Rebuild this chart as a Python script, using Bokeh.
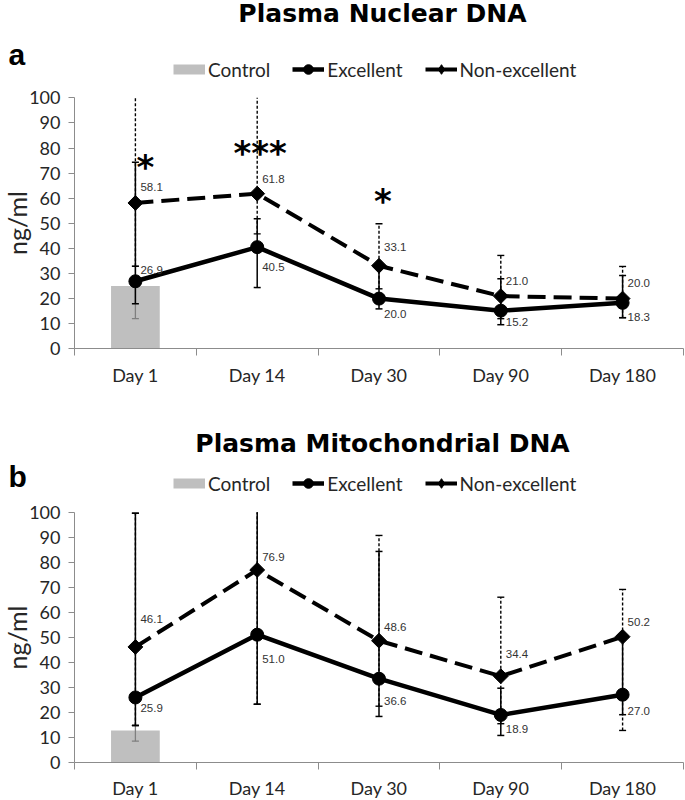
import numpy as np
from bokeh.plotting import figure
from bokeh.models import (ColumnDataSource, Range1d, FixedTicker, Legend, LegendItem, Label)
from bokeh.layouts import column
from bokeh.core.properties import value
from bokeh.embed import file_html
from bokeh.resources import INLINE

# ---------------- data ----------------
days = ["Day 1", "Day 14", "Day 30", "Day 90", "Day 180"]
y_ticks = list(range(0, 101, 10))

# Panel a: Plasma Nuclear DNA (ng/ml)
nuc_control = 25.0
nuc_control_lo = 12.0
nuc_control_hi = 32.9
nuc_exc = [26.9, 40.5, 20.0, 15.2, 18.3]
nuc_exc_lo = [17.9, 24.4, 15.9, 9.6, 12.4]
nuc_exc_hi = [74.3, 51.8, 32.0, 27.9, 29.2]
nuc_exc_labels = ["26.9", "40.5", "20.0", "15.2", "18.3"]
nuc_ne = [58.1, 61.8, 33.1, 21.0, 20.0]
nuc_ne_lo = [32.9, 45.8, 23.9, 12.0, 12.4]
nuc_ne_hi = [105.0, 105.0, 49.8, 37.2, 32.8]
nuc_ne_labels = ["58.1", "61.8", "33.1", "21.0", "20.0"]
nuc_stars = ["*", "***", "*"]
nuc_star_days = ["Day 1", "Day 14", "Day 30"]
nuc_star_y = [74.6, 80.0, 60.7]

# Panel b: Plasma Mitochondrial DNA (ng/ml)
mit_control = 12.7
mit_control_lo = 8.4
mit_control_hi = 14.7
mit_exc = [25.9, 51.0, 33.4, 18.9, 27.0]
mit_exc_lo = [14.7, 23.2, 18.3, 10.7, 19.0]
mit_exc_hi = [99.6, 105.0, 84.3, 29.6, 50.2]
mit_exc_labels = ["25.9", "51.0", "36.6", "18.9", "27.0"]
mit_ne = [46.1, 76.9, 48.6, 34.4, 50.2]
mit_ne_lo = [14.7, 23.2, 22.4, 15.4, 12.7]
mit_ne_hi = [99.6, 105.0, 90.7, 66.0, 69.1]
mit_ne_labels = ["46.1", "76.9", "48.6", "34.4", "50.2"]

# ---------------- styling ----------------
AXIS_GRAY = "#8c8c8c"
BAR_GRAY = "#bfbfbf"
TXT = "#262626"
FONT = "Lato"
W, H = 685, 400
AX_LEFT = 74.0          # pixel position of the y axis
PX_PER_CAT = 121.8      # pixels per day category


def make_panel(title, letter, control, control_lo, control_hi,
               exc, exc_lo, exc_hi, exc_labels, exc_dy,
               ne, ne_lo, ne_hi, ne_labels, ne_dy,
               y0_px, px_per_unit, title_px, letter_px, legend_px,
               label_standoff, stars=None):
    # ranges chosen so that the whole canvas is the frame; axes sit at fixed locations
    x_start = -AX_LEFT / PX_PER_CAT
    x_end = x_start + W / PX_PER_CAT
    y_start = -(H - y0_px) / px_per_unit
    y_end = y0_px / px_per_unit

    def ydata(py):
        return (y0_px - py) / px_per_unit

    def xdata(px):
        return (px - AX_LEFT) / PX_PER_CAT

    p = figure(width=W, height=H, min_border=0,
               x_range=Range1d(x_start, x_end), y_range=Range1d(y_start, y_end),
               output_backend="svg", toolbar_location=None)
    p.outline_line_color = None
    p.xgrid.visible = False
    p.ygrid.visible = False
    p.background_fill_color = "white"
    p.border_fill_color = "white"

    xs = [i + 0.5 for i in range(len(days))]

    # axes
    p.yaxis.fixed_location = 0
    p.yaxis.bounds = (0, 100)
    p.yaxis.ticker = FixedTicker(ticks=y_ticks)
    p.yaxis.major_tick_out = 6
    p.yaxis.major_tick_in = 0
    p.yaxis.minor_tick_out = 0
    p.yaxis.minor_tick_in = 0
    p.yaxis.major_label_standoff = 8
    p.yaxis.axis_label = "ng/ml"
    p.yaxis.axis_label_text_font = FONT
    p.yaxis.axis_label_text_font_size = "25px"
    p.yaxis.axis_label_text_font_style = "normal"
    p.yaxis.axis_label_text_color = TXT
    p.yaxis.axis_label_standoff = -6
    p.xaxis.fixed_location = 0
    p.xaxis.bounds = (0, len(days))
    p.xaxis.ticker = FixedTicker(ticks=xs, minor_ticks=list(range(0, len(days) + 1)))
    p.xaxis.major_tick_out = 0
    p.xaxis.major_tick_in = 0
    p.xaxis.minor_tick_out = 7
    p.xaxis.minor_tick_in = 0
    p.xaxis.major_label_overrides = {x: d for x, d in zip(xs, days)}
    p.xaxis.major_label_standoff = label_standoff
    for ax in (p.xaxis, p.yaxis):
        ax.axis_line_color = AXIS_GRAY
        ax.major_tick_line_color = AXIS_GRAY
        ax.minor_tick_line_color = AXIS_GRAY
        ax.major_label_text_font = FONT
        ax.major_label_text_font_size = "18px"
        ax.major_label_text_color = TXT

    top = y_ticks[-1]

    # control bar and its error bar
    cx = [xs[0]]
    p.vbar(x=cx, top=[control], width=0.4, fill_color=BAR_GRAY, line_color=None)
    p.segment(x0=cx, y0=[control_lo], x1=cx, y1=[control_hi], line_color="#7f7f7f", line_width=1.3)
    p.scatter(x=cx * 2, y=[control_lo, control_hi], marker="dash", size=7, line_color="#7f7f7f", line_width=1.3)

    def errbars(lo, hi, dash, width):
        hi_c = [min(v, top) for v in hi]
        kw = dict(line_color="black", line_width=width)
        if dash:
            p.segment(x0=xs, y0=lo, x1=xs, y1=hi_c, line_dash=dash, **kw)
        else:
            p.segment(x0=xs, y0=lo, x1=xs, y1=hi_c, **kw)
        capx = list(xs) + [x for x, v in zip(xs, hi) if v <= top]
        capy = list(lo) + [v for v in hi if v <= top]
        p.scatter(x=capx, y=capy, marker="dash", size=7, **kw)

    errbars(ne_lo, ne_hi, "3 2", 1.4)     # non-excellent (dashed)
    errbars(exc_lo, exc_hi, None, 1.5)    # excellent (solid)

    # legend proxy for the diamond (hidden beneath the real markers)
    r_ne_legend_mk = p.scatter(xs, ne, marker="diamond", size=11, fill_color="black", line_color="black")

    # series lines + markers
    r_ne_line = p.line(xs, ne, line_color="black", line_width=4, line_dash="18 8")
    r_exc_line = p.line(xs, exc, line_color="black", line_width=4.5)
    p.scatter(xs, ne, marker="square", angle=np.pi / 4, size=10.5,
              fill_color="black", line_color="black")
    r_exc_mk = p.scatter(xs, exc, marker="circle", size=13, fill_color="black", line_color="black")

    # data labels
    lab = ColumnDataSource(dict(
        x=xs + xs, y=list(ne) + list(exc),
        t=list(ne_labels) + list(exc_labels),
        dy=list(ne_dy) + list(exc_dy)))
    p.text(x="x", y="y", text="t", source=lab, x_offset=5, y_offset="dy",
           text_font=value("Liberation Sans"), text_font_size="11.5px",
           text_color="#333333", text_align="left", text_baseline="middle")

    # significance stars
    if stars is not None:
        s_txt, s_days, s_y, s_dx = stars
        ssrc = ColumnDataSource(dict(x=[days.index(d) + 0.5 for d in s_days], y=s_y, t=s_txt, dx=s_dx))
        p.text(x="x", y="y", text="t", source=ssrc, x_offset="dx", y_offset=5,
               text_font=value("DejaVu Sans"), text_font_style="bold", text_font_size="34px",
               text_color="black", text_align="center", text_baseline="alphabetic")

    # legend proxies: single-point lines draw nothing in the plot, only in the legend
    r_ctrl_proxy = p.line(x=cx, y=[control], line_color=BAR_GRAY, line_width=10, line_cap="butt")
    r_ne_proxy = p.line(x=cx, y=[ne[0]], line_color="black", line_width=4)
    legend = Legend(items=[LegendItem(label="Control", renderers=[r_ctrl_proxy]),
                           LegendItem(label="Excellent", renderers=[r_exc_line, r_exc_mk]),
                           LegendItem(label="Non-excellent", renderers=[r_ne_proxy, r_ne_legend_mk])],
                    location=(legend_px[0], H - legend_px[1] - 12), orientation="horizontal",
                    glyph_width=32, glyph_height=24, label_height=24,
                    label_standoff=3, spacing=22, padding=0, margin=0,
                    border_line_color=None, background_fill_alpha=0,
                    label_text_font=FONT, label_text_font_size="19px",
                    label_text_color=TXT)
    p.add_layout(legend, "center")

    # title and panel letter
    p.add_layout(Label(x=xdata(title_px[0]), y=ydata(title_px[1]), text=title,
                       text_align="center", text_baseline="middle",
                       text_font="DejaVu Sans", text_font_style="bold", text_font_size="25px",
                       text_color="black"))
    p.add_layout(Label(x=xdata(letter_px[0]), y=ydata(letter_px[1]), text=letter,
                       text_align="left", text_baseline="middle",
                       text_font="Liberation Sans", text_font_style="bold", text_font_size="30px",
                       text_color="black"))
    return p


pa = make_panel("Plasma Nuclear DNA", "a", nuc_control, nuc_control_lo, nuc_control_hi,
                nuc_exc, nuc_exc_lo, nuc_exc_hi, nuc_exc_labels, [-11, 20, 15, 11.5, 14],
                nuc_ne, nuc_ne_lo, nuc_ne_hi, nuc_ne_labels, [-16, -15, -18.5, -15, -16],
                y0_px=348.3, px_per_unit=2.51, title_px=(382, 13), letter_px=(8, 54),
                legend_px=(173, 69), label_standoff=8,
                stars=(nuc_stars, nuc_star_days, nuc_star_y, [10, 3, 4]))

pb = make_panel("Plasma Mitochondrial DNA", "b", mit_control, mit_control_lo, mit_control_hi,
                mit_exc, mit_exc_lo, mit_exc_hi, mit_exc_labels, [11, 24, 22, 14, 16],
                mit_ne, mit_ne_lo, mit_ne_hi, mit_ne_labels, [-28, -13, -13.5, -22, -14.5],
                y0_px=361.7, px_per_unit=2.5, title_px=(382, 43), letter_px=(8, 76),
                legend_px=(173, 83), label_standoff=8)

layout = column(pa, pb)
open("out.html", "w").write(file_html(layout, INLINE))
